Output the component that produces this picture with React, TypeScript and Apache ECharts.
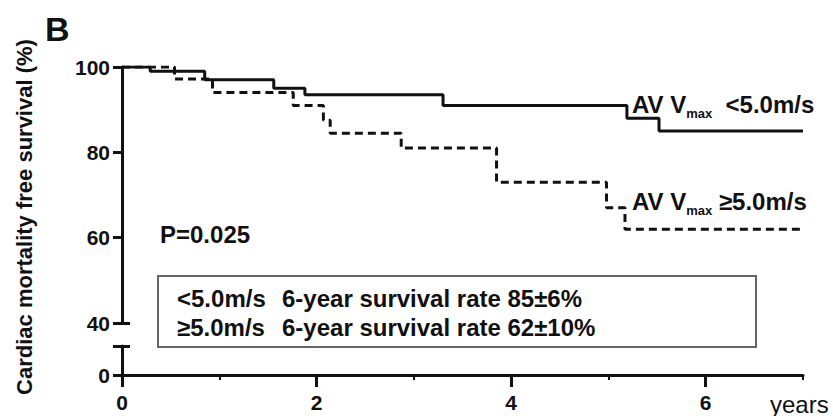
import { useEffect, useRef } from "react";
import * as echarts from "echarts";

// Kaplan–Meier estimates (time in years, survival in %)
const lowVelocityTimes = [0, 0.29, 0.85, 1.56, 1.88, 3.3, 5.19, 5.52, 7.0];
const lowVelocitySurvival = [100, 99, 97, 95, 93.5, 91, 88, 85, 85];
const highVelocityTimes = [0, 0.54, 0.93, 1.76, 2.07, 2.14, 2.87, 3.85, 4.98, 5.17, 6.97];
const highVelocitySurvival = [100, 97.2, 94, 91, 87.5, 84.5, 81, 73, 67, 62, 62];

const groupNames = ["<5.0m/s", "≥5.0m/s"];
const sixYearRates = [85, 62];
const sixYearErrors = [6, 10];
const pValue = "0.025";

const xMajorTicks = [0, 2, 4, 6];
const xMinorTicks = [1, 3, 5, 7];
const yTicks = [40, 60, 80, 100];

const ink = "#111";
const font = '"Liberation Sans", Arial, Helvetica, sans-serif';

const pairs = (xs: number[], ys: number[]) => xs.map((x, i) => [x, ys[i]]);

const axisStroke = { color: ink, width: 3 };

function buildOption() {
  const hidden = { show: false };
  return {
    animation: false,
    backgroundColor: "#fff",
    grid: [
      { left: 122, right: 30, top: 67, height: 256 },
      { left: 122, right: 30, top: 346, height: 29 },
    ],
    xAxis: [
      { gridIndex: 0, type: "value", min: 0, max: 7, interval: 1, show: false },
      {
        gridIndex: 1,
        type: "value",
        min: 0,
        max: 7,
        interval: 1,
        position: "bottom",
        axisLine: { show: true, onZero: false, lineStyle: axisStroke },
        axisTick: { show: true, customValues: xMajorTicks, length: 12, lineStyle: axisStroke },
        axisLabel: {
          customValues: xMajorTicks,
          margin: 17,
          color: ink,
          fontSize: 21,
          fontWeight: "bold",
          fontFamily: font,
        },
        splitLine: hidden,
      },
      {
        gridIndex: 1,
        type: "value",
        min: 0,
        max: 7,
        interval: 1,
        position: "bottom",
        axisLine: { show: false, onZero: false },
        axisTick: { show: true, customValues: xMinorTicks, length: 5, lineStyle: { color: ink, width: 2 } },
        axisLabel: hidden,
        splitLine: hidden,
      },
    ],
    yAxis: [
      {
        gridIndex: 0,
        type: "value",
        min: 40,
        max: 100,
        interval: 20,
        position: "left",
        axisLine: { show: true, onZero: false, lineStyle: axisStroke },
        axisTick: { show: true, customValues: yTicks, length: 9, lineStyle: axisStroke },
        axisLabel: {
          customValues: yTicks,
          margin: 12,
          color: ink,
          fontSize: 21,
          fontWeight: "bold",
          fontFamily: font,
        },
        splitLine: hidden,
      },
      {
        gridIndex: 0,
        type: "value",
        min: 40,
        max: 100,
        interval: 20,
        position: "left",
        axisLine: { show: false, onZero: false },
        axisTick: { show: true, inside: true, customValues: [40], length: 8, lineStyle: axisStroke },
        axisLabel: hidden,
        splitLine: hidden,
      },
      {
        gridIndex: 1,
        type: "value",
        min: 0,
        max: 1,
        interval: 1,
        position: "left",
        axisLine: { show: true, onZero: false, lineStyle: axisStroke },
        axisTick: { show: true, customValues: [0, 1], length: 9, lineStyle: axisStroke },
        axisLabel: {
          customValues: [0],
          margin: 12,
          color: ink,
          fontSize: 21,
          fontWeight: "bold",
          fontFamily: font,
        },
        splitLine: hidden,
      },
      {
        gridIndex: 1,
        type: "value",
        min: 0,
        max: 1,
        interval: 1,
        position: "left",
        axisLine: { show: false, onZero: false },
        axisTick: { show: true, inside: true, customValues: [1], length: 8, lineStyle: axisStroke },
        axisLabel: hidden,
        splitLine: hidden,
      },
    ],
    series: [
      {
        name: groupNames[0],
        type: "line",
        xAxisIndex: 0,
        yAxisIndex: 0,
        step: "end",
        symbol: "none",
        data: pairs(lowVelocityTimes, lowVelocitySurvival),
        lineStyle: { color: ink, width: 3, type: "solid" },
      },
      {
        name: groupNames[1],
        type: "line",
        xAxisIndex: 0,
        yAxisIndex: 0,
        step: "end",
        symbol: "none",
        data: pairs(highVelocityTimes, highVelocitySurvival),
        lineStyle: { color: ink, width: 3, type: [8, 5] },
      },
    ],
    graphic: [
      {
        type: "text",
        x: 45,
        y: 29,
        style: { text: "B", fill: ink, fontSize: 34, fontWeight: "bold", fontFamily: font, verticalAlign: "middle" },
      },
      {
        type: "text",
        x: 24,
        y: 217,
        rotation: Math.PI / 2,
        style: {
          text: "Cardiac mortality free survival (%)",
          fill: ink,
          fontSize: 22,
          fontWeight: "bold",
          fontFamily: font,
          align: "center",
          verticalAlign: "middle",
        },
      },
      {
        type: "text",
        x: 160,
        y: 234,
        style: { text: `P=${pValue}`, fill: ink, fontSize: 24, fontWeight: "bold", fontFamily: font, verticalAlign: "middle" },
      },
      {
        type: "rect",
        shape: { x: 158, y: 276, width: 598, height: 71 },
        style: { fill: "#fff", stroke: "#666", lineWidth: 2 },
      },
      ...groupNames.flatMap((g, i) => [
        {
          type: "text",
          x: 177,
          y: 298 + i * 29,
          style: { text: g, fill: ink, fontSize: 24, fontWeight: "bold", fontFamily: font, verticalAlign: "middle" },
        },
        {
          type: "text",
          x: 282,
          y: 298 + i * 29,
          style: {
            text: `6-year survival rate ${sixYearRates[i]}±${sixYearErrors[i]}%`,
            fill: ink,
            fontSize: 24,
            fontWeight: "bold",
            fontFamily: font,
            verticalAlign: "middle",
          },
        },
      ]),
      ...groupNames.map((g, i) => ({
        type: "text",
        x: 632,
        y: i === 0 ? 104 : 201,
        style: {
          text: `{b|AV V}{s|max}{b|${i === 0 ? "\u00a0\u00a0" : "\u00a0"}${g}}`,
          verticalAlign: "middle",
          rich: {
            b: { fontSize: 24, fontWeight: "bold", fontFamily: font, fill: ink },
            s: {
              fontSize: 13,
              fontWeight: "bold",
              fontFamily: font,
              fill: ink,
              verticalAlign: "bottom",
              padding: [0, 0, -4, 0],
            },
          },
        },
      })),
      {
        type: "text",
        x: 770,
        y: 404,
        style: { text: "years", fill: ink, fontSize: 24, fontFamily: font, verticalAlign: "middle" },
      },
    ],
  };
}

export default function App() {
  const ref = useRef<HTMLDivElement>(null);
  useEffect(() => {
    if (!ref.current) return;
    const chart = echarts.init(ref.current, null, { renderer: "svg" });
    chart.setOption(buildOption() as any);
    return () => chart.dispose();
  }, []);
  return (
    <div
      ref={ref}
      style={{ position: "absolute", left: 0, top: 0, width: 833, height: 416, background: "#fff" }}
    />
  );
}
